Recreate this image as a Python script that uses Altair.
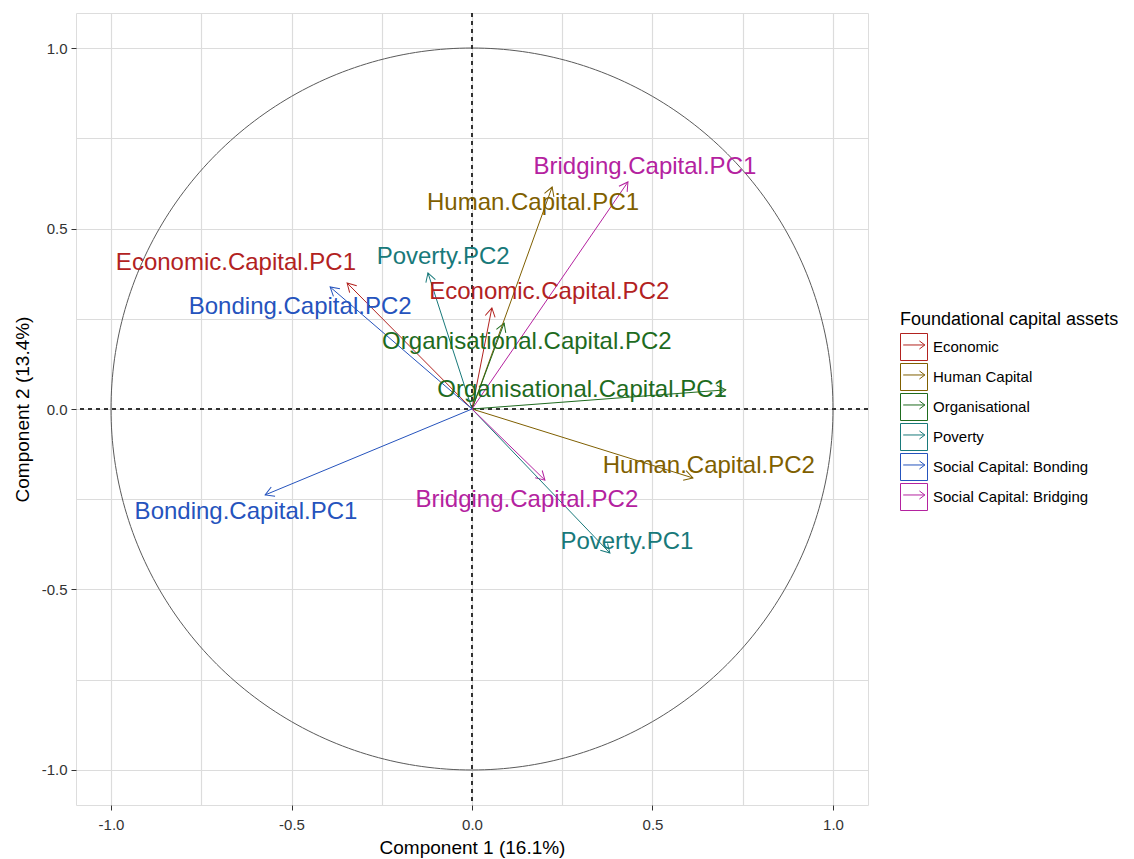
import altair as alt
import pandas as pd

# ---- data ----
labels = ["Economic.Capital.PC1", "Economic.Capital.PC2",
          "Human.Capital.PC1", "Human.Capital.PC2",
          "Organisational.Capital.PC1", "Organisational.Capital.PC2",
          "Poverty.PC1", "Poverty.PC2",
          "Bonding.Capital.PC1", "Bonding.Capital.PC2",
          "Bridging.Capital.PC1", "Bridging.Capital.PC2"]
groups = ["Economic", "Economic",
          "Human Capital", "Human Capital",
          "Organisational", "Organisational",
          "Poverty", "Poverty",
          "Social Capital: Bonding", "Social Capital: Bonding",
          "Social Capital: Bridging", "Social Capital: Bridging"]
comp1 = [-0.346, 0.055, 0.222, 0.612, 0.703, 0.089, 0.382, -0.122, -0.573, -0.393, 0.432, 0.202]
comp2 = [0.349, 0.280, 0.615, -0.191, 0.053, 0.238, -0.399, 0.377, -0.238, 0.338, 0.629, -0.197]
label_x = [-0.654, 0.214, 0.169, 0.656, 0.305, 0.152, 0.429, -0.080, -0.626, -0.476, 0.479, 0.152]
label_y = [0.404, 0.324, 0.571, -0.158, 0.053, 0.186, -0.368, 0.421, -0.285, 0.283, 0.670, -0.252]

group_order = ["Economic", "Human Capital", "Organisational", "Poverty",
               "Social Capital: Bonding", "Social Capital: Bridging"]
group_colors = ["#B2221F", "#7F5F00", "#1E6B1E", "#18797A", "#2553BD", "#B4229F"]

tick_values = [-1.0, -0.75, -0.5, -0.25, 0.0, 0.25, 0.5, 0.75, 1.0]

colour_of = dict(zip(group_order, group_colors))
df = pd.DataFrame({"label": labels, "group": groups, "x": comp1, "y": comp2,
                   "lx": label_x, "ly": label_y,
                   "col": [colour_of[g] for g in groups]})

FONT = "Liberation Sans"
LIM = 1.097
xscale = alt.Scale(domain=[-LIM, LIM], nice=False, zero=False)
yscale = alt.Scale(domain=[-LIM, LIM], nice=False, zero=False)

major = "abs(datum.value*2 - round(datum.value*2)) < 0.001"
label_expr = f"{major} ? replace(format(datum.value, '.1f'), '\u2212', '-') : ''"

def make_axis(title, pad):
    return alt.Axis(values=tick_values, title=title, labelExpr=label_expr,
                    grid=True, gridColor="#DCDCDC", gridWidth=1.2,
                    domain=False, tickSize=5, tickColor="#333333", tickWidth=1,
                    tickOpacity={"condition": {"test": major, "value": 1}, "value": 0},
                    labelFont=FONT, labelFontSize=15, labelColor="#333333",
                    labelPadding=pad[0], titleFont=FONT, titleFontSize=19,
                    titleFontWeight="normal", titleColor="#000000",
                    titlePadding=pad[1], labelFlush=False, labelOverlap=False)

x_axis = make_axis("Component 1 (16.1%)", (7, 6))
y_axis = make_axis("Component 2 (13.4%)", (4, 9))

color_scale = alt.Scale(domain=group_order, range=group_colors)

# unit circle (reference geometry)
circle = alt.Chart(alt.sequence(0, 361, 1, as_="t")).transform_calculate(
    cx="cos(datum.t*PI/180)", cy="sin(datum.t*PI/180)"
).mark_line(color="#5A5A5A", strokeWidth=1, clip=True).encode(
    x=alt.X("cx:Q", scale=xscale, axis=x_axis),
    y=alt.Y("cy:Q", scale=yscale, axis=y_axis),
    order="t:Q",
)

hzero = alt.Chart(df).mark_rule(color="#333333", strokeWidth=0.8, strokeDash=[4, 4]).encode(
    y=alt.Y(datum=0, scale=yscale, axis=y_axis))
vzero = alt.Chart(df).mark_rule(color="#333333", strokeWidth=0.8, strokeDash=[4, 4]).encode(
    x=alt.X(datum=0, scale=xscale, axis=x_axis))

legend_symbol = "M-1,-1H1V1H-1Z M-0.8,-0.15H0.8 M0.4,-0.45L0.8,-0.15L0.4,0.15"

legend = alt.Legend(title="Foundational capital assets",
                    orient="none", legendX=824, legendY=298,
                    padding=0, titleFont=FONT, titleFontSize=18,
                    titleFontWeight="normal", titleColor="#000000",
                    titlePadding=4, titleLimit=400,
                    labelFont=FONT, labelFontSize=15,
                    labelColor="#000000", labelOffset=5, labelLimit=400,
                    symbolType=legend_symbol, symbolSize=729,
                    symbolStrokeWidth=1, rowPadding=-2, symbolOpacity=1,
                    symbolFillColor="transparent")

heads = alt.Chart(df).transform_calculate(
    ang="(atan2(-datum.y, datum.x)*180/PI + 360) % 360"
).mark_point(shape="M-1,-0.577L0,0L-1,0.577", filled=False, size=300,
             strokeWidth=1, opacity=1).encode(
    x=alt.X("x:Q", scale=xscale, axis=x_axis),
    y=alt.Y("y:Q", scale=yscale, axis=y_axis),
    angle=alt.Angle("ang:Q", scale=None),
    stroke=alt.Stroke("group:N", scale=color_scale, sort=group_order, legend=legend),
)

shafts = alt.Chart(df).transform_calculate(ox="0", oy="0").mark_rule(strokeWidth=1).encode(
    x=alt.X("ox:Q", scale=xscale, axis=x_axis),
    y=alt.Y("oy:Q", scale=yscale, axis=y_axis),
    x2="x:Q", y2="y:Q",
    stroke=alt.Stroke("col:N", scale=None),
)

texts = alt.Chart(df).mark_text(font=FONT, fontSize=24).encode(
    x=alt.X("lx:Q", scale=xscale, axis=x_axis),
    y=alt.Y("ly:Q", scale=yscale, axis=y_axis),
    text="label:N",
    fill=alt.Fill("col:N", scale=None),
)

chart = alt.layer(circle, hzero, vzero, heads, shafts, texts).properties(
    width=792, height=792,
    autosize=alt.AutoSizeParams(type="none"),
    padding={"left": 68, "top": 5, "right": 250, "bottom": 54},
).configure_view(stroke=None).configure(background="white")

chart.save("out.html", embed_options={"renderer": "svg", "actions": False})
